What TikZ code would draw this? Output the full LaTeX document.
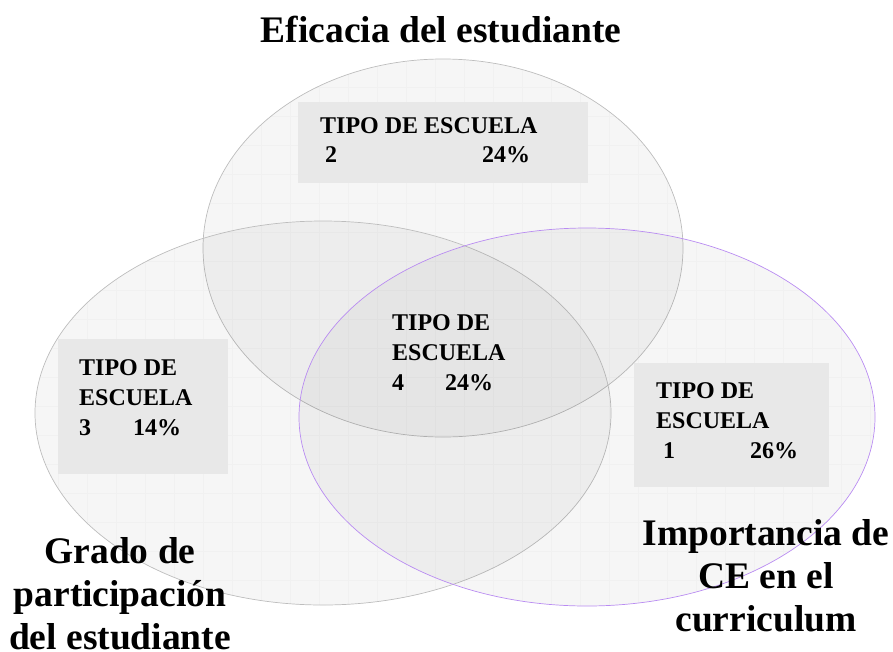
\documentclass[tikz,border=0pt]{standalone}
\usepackage{fontspec}
\setmainfont{Liberation Serif}
\usepackage{tikz}
\usetikzlibrary{shapes.geometric}
\definecolor{ringgray}{HTML}{BDBDBD}
\definecolor{ringviolet}{HTML}{B98CF2}
\definecolor{boxgray}{HTML}{E8E8E8}
\tikzset{
  ring/.style={ellipse,draw=ringgray,line width=0.7pt,fill=black,fill opacity=0.035,inner sep=0pt},
  tipobox/.style={fill=boxgray,inner sep=0pt},
  tipotext/.style={align=left,anchor=north west,inner sep=0pt,font=\bfseries\fontsize{24}{30}\selectfont},
  bigtext/.style={align=center,inner sep=0pt,font=\bfseries\fontsize{37.5}{43}\selectfont}
}

\begin{document}
\begin{tikzpicture}[x=1pt,y=-1pt]
\useasboundingbox (0,0) rectangle (893,651);

% faint grid inside the circles
\begin{scope}
\clip (443,248) ellipse (240 and 189) (323,413) ellipse (288 and 192) (587,417) ellipse (288 and 189);
\draw[black,opacity=0.02,line width=0.6pt,step=29pt] (0,0) grid (893,651);
\end{scope}

\node[ring,minimum width=480pt,minimum height=378pt] (E) at (443,248) {};
\node[ring,minimum width=576pt,minimum height=384pt] (G) at (323,413) {};
\node[ring,draw=ringviolet,minimum width=576pt,minimum height=378pt] (I) at (587,417) {};

\node[tipobox,minimum width=290pt,minimum height=81pt] (B2) at (443,142.5) {};
\node[tipobox,minimum width=170pt,minimum height=135pt] (B3) at (143,406.5) {};
\node[tipobox,minimum width=195pt,minimum height=124pt] (B1) at (731.5,425) {};
%\node[tipobox,minimum width=130pt,minimum height=100pt] (B4) at (445,355) {};

\node[tipotext] (T2) at (320,117) {TIPO DE ESCUELA\\[-1pt] \hspace*{5pt}\makebox[157pt][l]{2}24\%};
\node[tipotext] (T3) at (79,359) {TIPO DE\\ ESCUELA\\ \makebox[54pt][l]{3}14\%};
\node[tipotext] (T4) at (392,314) {TIPO DE\\ ESCUELA\\ \makebox[53pt][l]{4}24\%};
\node[tipotext] (T1) at (656,382) {TIPO DE\\ ESCUELA\\ \hspace*{7pt}\makebox[87pt][l]{1}26\%};

\node[bigtext,anchor=base] (LE) at (441,42) {Eficacia del estudiante};
\node[bigtext,anchor=north] (LG) at (120,537) {Grado de\\ participación\\ del estudiante};
\node[bigtext,anchor=north] (LI) at (766,519) {Importancia de\\ CE en el\\ curriculum};

\end{tikzpicture}
\end{document}
